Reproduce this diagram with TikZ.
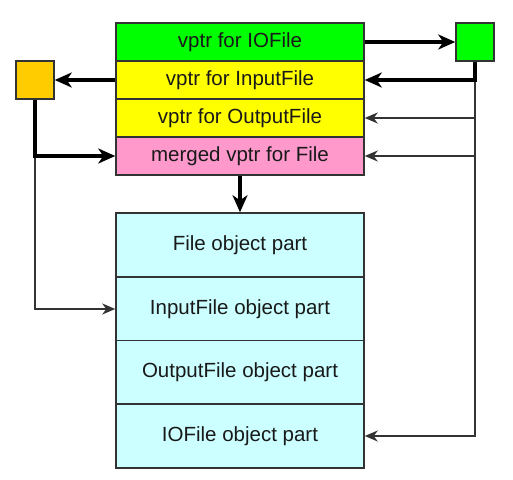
\documentclass[tikz,border=0pt]{standalone}
\usepackage{fontspec}
\setmainfont{Liberation Sans}
\usetikzlibrary{arrows.meta}
\definecolor{cgreen}{HTML}{00FF00}
\definecolor{cyellow}{HTML}{FFFF00}
\definecolor{cpink}{HTML}{FF99CC}
\definecolor{ccyan}{HTML}{CCFFFF}
\definecolor{corange}{HTML}{FFCC00}
\definecolor{cline}{HTML}{333333}
\begin{document}
\begin{tikzpicture}[x=1pt,y=-1pt,
  cell/.style={draw=cline,line width=1.5pt,minimum width=248pt,inner sep=0pt,font=\fontsize{20.5}{23}\selectfont,text=black!90},
  vrow/.style={cell,minimum height=38pt},
  orow/.style={cell,minimum height=64pt,fill=ccyan},
  sq/.style={draw=cline,line width=1.5pt,minimum width=38pt,minimum height=38pt,inner sep=0pt},
  thickarr/.style={line width=3.8pt,-{Stealth[length=17pt,width=15pt,inset=5pt]}},
  thinline/.style={line width=1.4pt,draw=cline},
  thinarr/.style={thinline,-{Stealth[length=13pt,width=11pt,inset=4pt]}}]
\useasboundingbox (0,0) rectangle (513,479);
\node[vrow,fill=cgreen] (r1) at (240,42) {vptr for IOFile};
\node[vrow,fill=cyellow] (r2) at (240,80) {vptr for InputFile};
\node[vrow,fill=cyellow] (r3) at (240,118) {vptr for OutputFile};
\node[vrow,fill=cpink] (r4) at (240,156) {merged vptr for File};
\node[orow] (b1) at (240,245) {File object part};
\node[orow] (b2) at (240,309) {InputFile object part};
\node[orow] (b3) at (240,372.5) {OutputFile object part};
\node[orow] (b4) at (240,436) {IOFile object part};
\node[sq,fill=corange] (ob) at (35,80) {};
\node[sq,fill=cgreen] (gb) at (475,42) {};
% right side
\draw[thinarr] (gb.south) |- (b4.east);
\draw[thinarr] (gb.south |- r3.east) -- (r3.east);
\draw[thinarr] (gb.south |- r4.east) -- (r4.east);
\draw[thickarr] (r1.east) -- (gb.west);
\draw[thickarr] (gb.south) |- (r2.east);
% left side
\draw[thinarr] (ob.south) |- (b2.west);
\draw[thickarr] (r2.west) -- (ob.east);
\draw[thickarr] (ob.south) |- (r4.west);
% down
\draw[thickarr] (r4.south) -- (b1.north);
\end{tikzpicture}
\end{document}
